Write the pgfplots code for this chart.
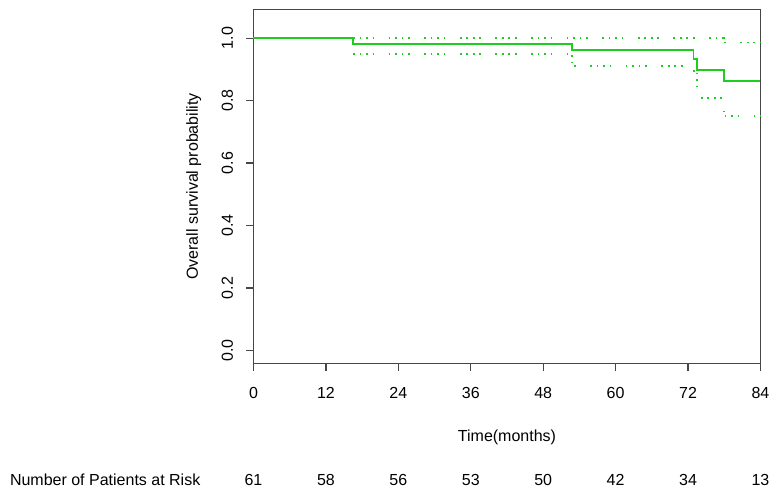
\documentclass[border=0pt]{standalone}
\usepackage{fontspec}
\setmainfont{Liberation Sans}
\usepackage{pgfplots}
\pgfplotsset{compat=1.18}
\definecolor{kmgreen}{RGB}{30,205,30}
\definecolor{axgray}{RGB}{70,70,70}
\begin{document}
\fontsize{16}{19}\selectfont
\begin{tikzpicture}
\useasboundingbox (-253.5pt,-134.7pt) rectangle (521.5pt,363.5pt);
\begin{axis}[
  at={(0pt,0pt)}, anchor=south west,
  scale only axis, width=507pt, height=354pt,
  xmin=0, xmax=84, ymin=-0.042, ymax=1.092,
  xtick={0,12,...,84}, ytick={0,0.2,...,1.0},
  yticklabel style={/pgf/number format/fixed,/pgf/number format/fixed zerofill,/pgf/number format/precision=1,rotate=90,anchor=south,yshift=8pt},
  /pgf/number format/assume math mode=true,
  tick align=outside, tick pos=left,
  major tick length=7pt,
  axis line style={axgray, line width=1.3pt},
  every tick/.style={axgray, line width=1.3pt},
  xticklabel style={anchor=north, yshift=-11pt},
  xlabel={Time(months)},
  xlabel style={at={(axis description cs:0.5,0)}, anchor=center, yshift=-73.7pt},
  ylabel={Overall survival probability},
  ylabel style={at={(axis description cs:-0.118,0.5)}, anchor=center},
  clip=false,
]
\addplot[const plot, color=kmgreen, mark=none, line width=1.7pt, dash pattern=on 1.7pt off 4.8pt on 1.7pt off 4.8pt on 1.7pt off 4.8pt on 1.7pt off 14.4pt] coordinates {
  (16.5,1.0) (77.9,0.986) (84,0.986)};
\addplot[const plot, color=kmgreen, mark=none, line width=1.7pt, dash pattern=on 1.7pt off 4.8pt on 1.7pt off 4.8pt on 1.7pt off 4.8pt on 1.7pt off 14.4pt] coordinates {
  (16.5,0.949) (52.8,0.910) (72.9,0.896) (73.5,0.809) (77.9,0.75) (84,0.75)};
\addplot[color=kmgreen, mark=none, line width=1.8pt, solid] coordinates {
  (0,1) (16.5,1) (16.5,0.981) (52.8,0.981) (52.8,0.962) (72.9,0.962) (72.9,0.933)
  (73.5,0.933) (73.5,0.899) (77.9,0.899) (77.9,0.862) (84,0.862)};
\node[anchor=west] at ([yshift=-116.7pt]axis cs:0,-0.042) [xshift=-249pt] {Number of Patients at Risk};
\foreach \x/\n in {0/61,12/58,24/56,36/53,48/50,60/42,72/34,84/13}{
  \edef\tmp{\noexpand\node at ([yshift=-116.7pt]axis cs:\x,-0.042) {\n};}\tmp
}
\end{axis}
\end{tikzpicture}
\end{document}
